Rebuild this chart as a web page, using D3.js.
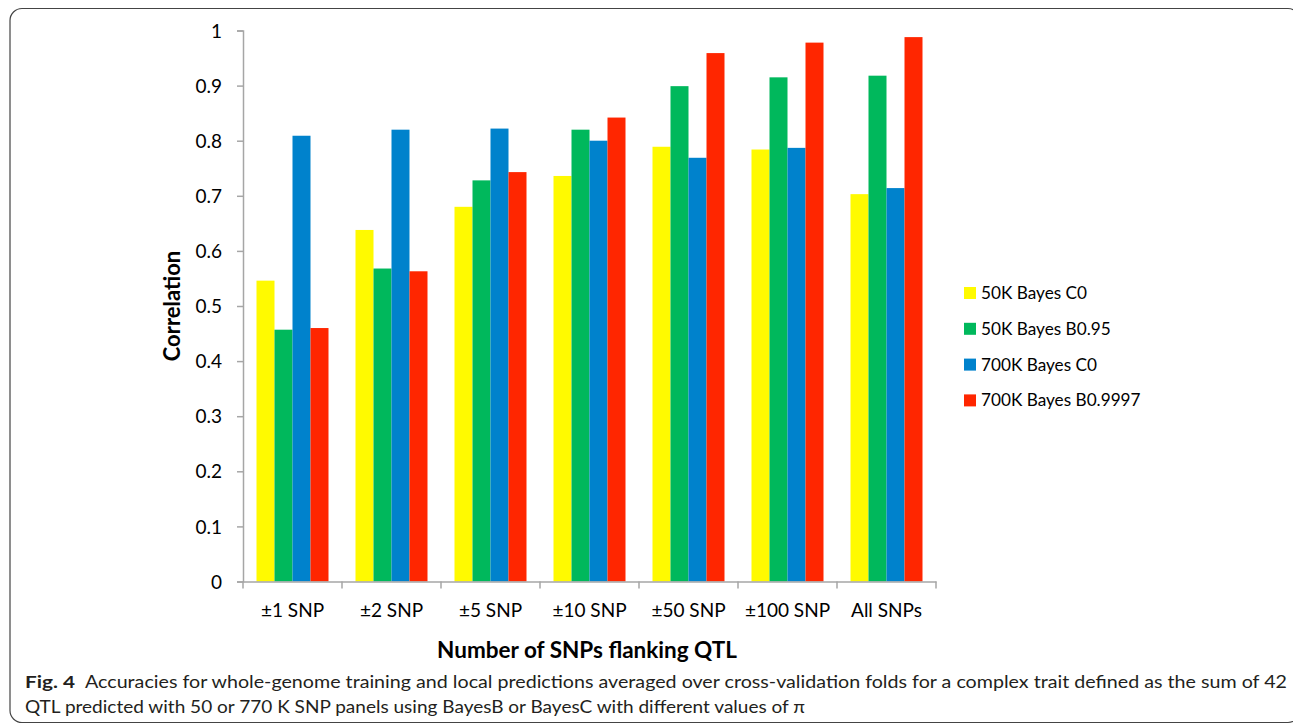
<!DOCTYPE html>
<html><head><meta charset="utf-8">
<script src="https://cdn.jsdelivr.net/npm/d3@7"></script>
<style>body{margin:0;background:#fff}svg{display:block}</style>
</head><body>
<script>
const categories = ["±1 SNP","±2 SNP","±5 SNP","±10 SNP","±50 SNP","±100 SNP","All SNPs"];
const seriesNames = ["50K Bayes C0","50K Bayes B0.95","700K Bayes C0","700K Bayes B0.9997"];
const seriesColors = ["#FFFA00","#00B85C","#0082CC","#FF2600"];
const yTicks = [0,0.1,0.2,0.3,0.4,0.5,0.6,0.7,0.8,0.9,1];
const s50C0   = [0.546,0.638,0.680,0.736,0.789,0.784,0.703];
const s50B095 = [0.457,0.568,0.728,0.820,0.899,0.915,0.918];
const s700C0  = [0.809,0.820,0.822,0.800,0.769,0.787,0.714];
const s700B   = [0.460,0.563,0.743,0.842,0.959,0.978,0.988];
const seriesValues = [s50C0,s50B095,s700C0,s700B];

const W=1293,H=725;
const svg=d3.select("body").append("svg").attr("width",W).attr("height",H);
const font="Lato, 'Open Sans', sans-serif";

// frame
svg.append("rect").attr("x",10).attr("y",8.5).attr("width",1290).attr("height",714)
  .attr("rx",12).attr("fill","none").attr("stroke","#444").attr("stroke-width",1.2);

const x0=d3.scaleBand().domain(categories).range([243,936]).paddingInner(0).paddingOuter(0);
const x1=d3.scaleBand().domain(seriesNames).range([0,x0.bandwidth()]).paddingOuter(0.75).paddingInner(0);
const y=d3.scaleLinear().domain([0,1]).range([581.5,30.5]);

// bars
const g=svg.append("g");
categories.forEach((c,i)=>{
  seriesNames.forEach((s,j)=>{
    const v=seriesValues[j][i];
    g.append("rect").attr("x",x0(c)+x1(s)).attr("width",x1.bandwidth())
      .attr("y",y(v)).attr("height",y(0)-y(v)).attr("fill",seriesColors[j]);
  });
});

// y axis
const ya=svg.append("g").attr("transform","translate(243,0)")
  .call(d3.axisLeft(y).tickValues(yTicks).tickFormat(d=>d===0?"0":(d===1?"1":d3.format(".1f")(d))).tickSize(6).tickPadding(15));
ya.select(".domain").attr("stroke","#a6a6a6").attr("stroke-width",1.5);
ya.selectAll(".tick line").attr("stroke","#a6a6a6").attr("stroke-width",1.5);
ya.selectAll(".tick text").attr("font-family",font).attr("font-size",19).attr("fill","#000").attr("dy","0.35em");

// x axis
const xa=svg.append("g").attr("transform","translate(0,581.5)")
  .call(d3.axisBottom(x0).tickSize(0).tickPadding(22));
xa.select(".domain").attr("stroke","#a6a6a6").attr("stroke-width",1.5);
xa.selectAll(".tick text").attr("font-family",font).attr("font-size",19).attr("fill","#000");
const bounds=[...categories.map(c=>x0(c)),x0(categories[categories.length-1])+x0.bandwidth()];
xa.selectAll(".sep").data(bounds).enter().append("line").attr("class","sep")
  .attr("x1",d=>d).attr("x2",d=>d).attr("y1",0).attr("y2",7).attr("stroke","#a6a6a6").attr("stroke-width",1.5);

// axis titles
svg.append("text").attr("x",587).attr("y",658).attr("text-anchor","middle")
  .attr("font-family",font).attr("font-weight","bold").attr("font-size",22.5).text("Number of SNPs flanking QTL");
svg.append("text").attr("transform","translate(180,306) rotate(-90)").attr("text-anchor","middle")
  .attr("font-family",font).attr("font-weight","bold").attr("font-size",22).text("Correlation");

// legend
const lg=svg.append("g");
seriesNames.forEach((s,j)=>{
  const cy=293+j*35.8;
  lg.append("rect").attr("x",964).attr("y",cy-6).attr("width",12).attr("height",12).attr("fill",seriesColors[j]);
  lg.append("text").attr("x",981).attr("y",cy).attr("dy","0.35em").attr("font-family",font).attr("font-size",17.2).text(s);
});

// caption
svg.append("text").attr("x",25).attr("y",688).attr("font-family",font).attr("font-size",17).attr("font-weight","bold").attr("fill","#231f20")
  .attr("textLength",50).attr("lengthAdjust","spacingAndGlyphs").text("Fig. 4");
svg.append("text").attr("x",85).attr("y",688).attr("font-family",font).attr("font-size",16.5).attr("fill","#231f20")
  .attr("textLength",1202).attr("lengthAdjust","spacingAndGlyphs")
  .text("Accuracies for whole-genome training and local predictions averaged over cross-validation folds for a complex trait defined as the sum of 42");
svg.append("text").attr("x",25).attr("y",713).attr("font-family",font).attr("font-size",16.5).attr("fill","#231f20")
  .attr("textLength",780).attr("lengthAdjust","spacingAndGlyphs")
  .text("QTL predicted with 50 or 770 K SNP panels using BayesB or BayesC with different values of π");
</script>
</body></html>
